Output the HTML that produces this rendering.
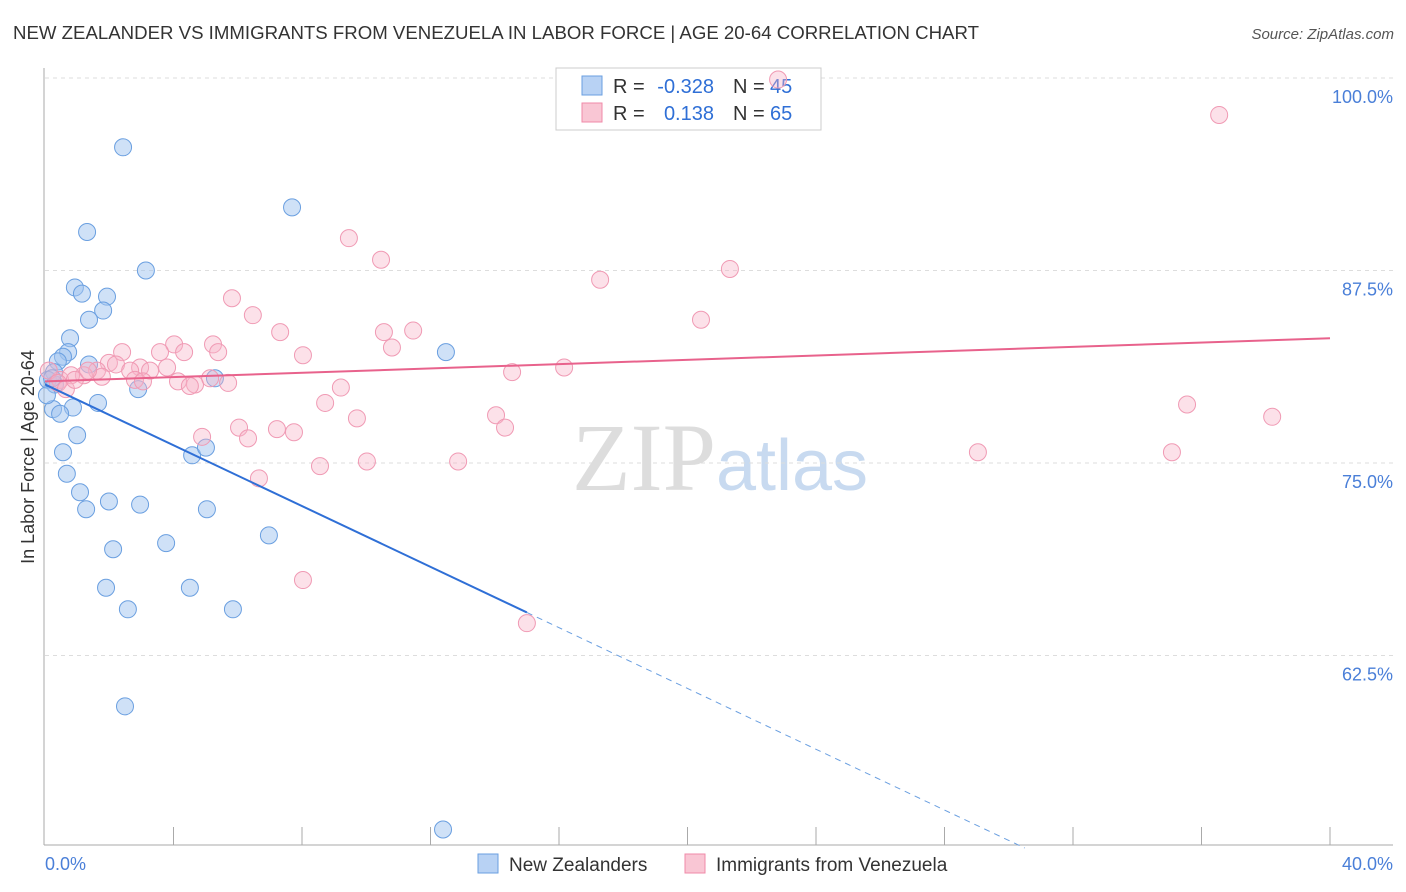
<!DOCTYPE html>
<html><head><meta charset="utf-8"><style>
body{margin:0;background:#fff;font-family:"Liberation Sans",sans-serif;}
</style></head><body>
<svg id="chart" width="1406" height="892" xmlns="http://www.w3.org/2000/svg" style="display:block">
<text x="13" y="39" font-size="18" fill="#333" textLength="966" lengthAdjust="spacingAndGlyphs">NEW ZEALANDER VS IMMIGRANTS FROM VENEZUELA IN LABOR FORCE | AGE 20-64 CORRELATION CHART</text>
<text x="1394" y="39" font-size="15" fill="#555" text-anchor="end" font-style="italic">Source: ZipAtlas.com</text>
<text x="720" y="490" font-size="96" text-anchor="middle" fill="#ddd" font-family="Liberation Serif,serif">ZIP<tspan fill="#c8daf0" font-family="Liberation Sans,sans-serif" font-size="72">atlas</tspan></text>
<g id="grid"></g><g id="axes"></g>
<g>
<rect x="556" y="68" width="265" height="62" fill="#fff" stroke="#ccc"/>
<rect x="582" y="76" width="20" height="19" fill="#b8d2f4" stroke="#6a9fe0"/>
<rect x="582" y="103" width="20" height="19" fill="#f9c6d4" stroke="#f08aa8"/>
<text x="613" y="93" font-size="20" fill="#333">R =</text>
<text x="714" y="93" font-size="20" fill="#2f6fd6" text-anchor="end">-0.328</text>
<text x="733" y="93" font-size="20" fill="#333">N =</text>
<text x="770" y="93" font-size="20" fill="#2f6fd6">45</text>
<text x="613" y="120" font-size="20" fill="#333">R =</text>
<text x="714" y="120" font-size="20" fill="#2f6fd6" text-anchor="end">0.138</text>
<text x="733" y="120" font-size="20" fill="#333">N =</text>
<text x="770" y="120" font-size="20" fill="#2f6fd6">65</text>
</g>
<g id="pts"></g><g id="lines"></g>
<text transform="translate(34,457) rotate(-90)" font-size="18" fill="#333" text-anchor="middle">In Labor Force | Age 20-64</text>
<text x="45" y="870" font-size="18" fill="#4a7fd8">0.0%</text>
<text x="1393" y="870" font-size="18" fill="#4a7fd8" text-anchor="end">40.0%</text>
<g>
<rect x="478" y="854" width="20" height="19" fill="#b8d2f4" stroke="#6a9fe0"/>
<text x="509" y="871" font-size="19" fill="#333">New Zealanders</text>
<rect x="685" y="854" width="20" height="19" fill="#f9c6d4" stroke="#f08aa8"/>
<text x="716" y="871" font-size="19" fill="#333">Immigrants from Venezuela</text>
</g>
</svg>
<script>
const blueX=[2.43,7.69,1.31,3.14,0.93,1.15,1.93,1.81,1.37,0.78,0.72,0.56,1.37,0.40,0.28,0.09,0.31,2.90,5.29,12.48,1.65,0.87,0.25,0.47,1.00,0.56,0.68,4.58,5.01,1.09,1.99,2.96,1.28,5.04,3.77,6.97,2.12,1.90,4.51,2.58,5.85,2.49,12.39,0.06,0.22];
const blueY=[95.5,91.6,90.0,87.5,86.4,86.0,85.8,84.9,84.3,83.1,82.2,81.9,81.4,81.6,80.9,80.4,80.1,79.8,80.5,82.2,78.9,78.6,78.5,78.2,76.8,75.7,74.3,75.5,76.0,73.1,72.5,72.3,72.0,72.0,69.8,70.3,69.4,66.9,66.9,65.5,65.5,59.2,51.2,79.4,80.5];
const pinkX=[22.82,36.55,9.46,10.46,21.32,17.28,5.82,6.47,7.32,10.55,11.46,20.42,10.80,4.02,5.23,8.03,2.40,3.58,5.39,4.33,1.99,2.96,3.27,3.80,2.21,2.65,1.62,1.21,1.77,2.80,4.14,4.67,5.14,5.70,0.47,0.81,14.54,16.16,9.21,8.72,9.71,14.04,14.32,6.04,7.22,7.75,4.89,6.32,8.56,10.02,12.86,6.66,29.04,35.08,35.55,38.20,8.03,15.00,0.12,0.40,0.65,0.93,1.34,3.05,4.51];
const pinkY=[99.9,97.6,89.6,88.2,87.6,86.9,85.7,84.6,83.5,83.5,83.6,84.3,82.5,82.7,82.7,82.0,82.2,82.2,82.2,82.2,81.5,81.2,81.0,81.2,81.4,81.0,81.0,80.7,80.6,80.4,80.3,80.1,80.5,80.2,80.4,80.7,80.9,81.2,79.9,78.9,77.9,78.1,77.3,77.3,77.2,77.0,76.7,76.6,74.8,75.1,75.1,74.0,75.7,75.7,78.8,78.0,67.4,64.6,81.0,80.2,79.8,80.4,81.0,80.3,80.0];
const yTicks=[100,87.5,75,62.5];
const yTickLabels=["100.0%","87.5%","75.0%","62.5%"];
const xTicks=[4,8,12,16,20,24,28,32,36,40];
const blueTrend=[80.1,-0.987]; // intercept, slope
const pinkTrend=[80.3,0.07];
const sx=v=>45+v/40*1285, sy=v=>78+(100-v)*15.4;
const NS="http://www.w3.org/2000/svg";
function mk(p,t,a){const e=document.createElementNS(NS,t);for(const k in a)e.setAttribute(k,a[k]);p.appendChild(e);return e;}
const grid=document.getElementById('grid'),axes=document.getElementById('axes'),pts=document.getElementById('pts'),lines=document.getElementById('lines');
yTicks.forEach((t,i)=>{
 const l=mk(grid,'line',{x1:45,x2:1393,y1:sy(t),y2:sy(t),stroke:'#ddd','stroke-dasharray':'4,4'});
 
 
 const tx=mk(grid,'text',{x:1393,y:sy(t)+25,'font-size':18,fill:'#4a7fd8','text-anchor':'end'});
 tx.textContent=yTickLabels[i];
 
 
});
const ay=mk(axes,'line',{x1:44,x2:44,y1:68,y2:845,stroke:'#aaa'});


const ax=mk(axes,'line',{x1:44,x2:1393,y1:845,y2:845,stroke:'#aaa'});


xTicks.forEach(t=>{
 const l=mk(axes,'line',{x1:sx(t),x2:sx(t),y1:827,y2:845,stroke:'#aaa'});
 
 
});
blueX.forEach((x,i)=>{
 const c=mk(pts,'circle',{cx:sx(x),cy:sy(blueY[i]),r:8.5,fill:'rgba(160,196,240,0.5)',stroke:'#6a9fe0','stroke-width':1});
 
 
});
pinkX.forEach((x,i)=>{
 const c=mk(pts,'circle',{cx:sx(x),cy:sy(pinkY[i]),r:8.5,fill:'rgba(248,180,200,0.4)',stroke:'#f09ab4','stroke-width':1});
 
 
});
const bf=x=>blueTrend[0]+blueTrend[1]*x, pf=x=>pinkTrend[0]+pinkTrend[1]*x;
const b1=mk(lines,'line',{x1:sx(0),y1:sy(bf(0)),x2:sx(15),y2:sy(bf(15)),stroke:'#2f6fd6','stroke-width':2});


const xe=(50-blueTrend[0])/blueTrend[1];
const b2=mk(lines,'line',{x1:sx(15),y1:sy(bf(15)),x2:sx(xe),y2:sy(bf(xe)),stroke:'#6a9fe0','stroke-width':1,'stroke-dasharray':'6,5'});


const p1=mk(lines,'line',{x1:sx(0),y1:sy(pf(0)),x2:sx(40),y2:sy(pf(40)),stroke:'#e8628c','stroke-width':2});


</script>
</body></html>
